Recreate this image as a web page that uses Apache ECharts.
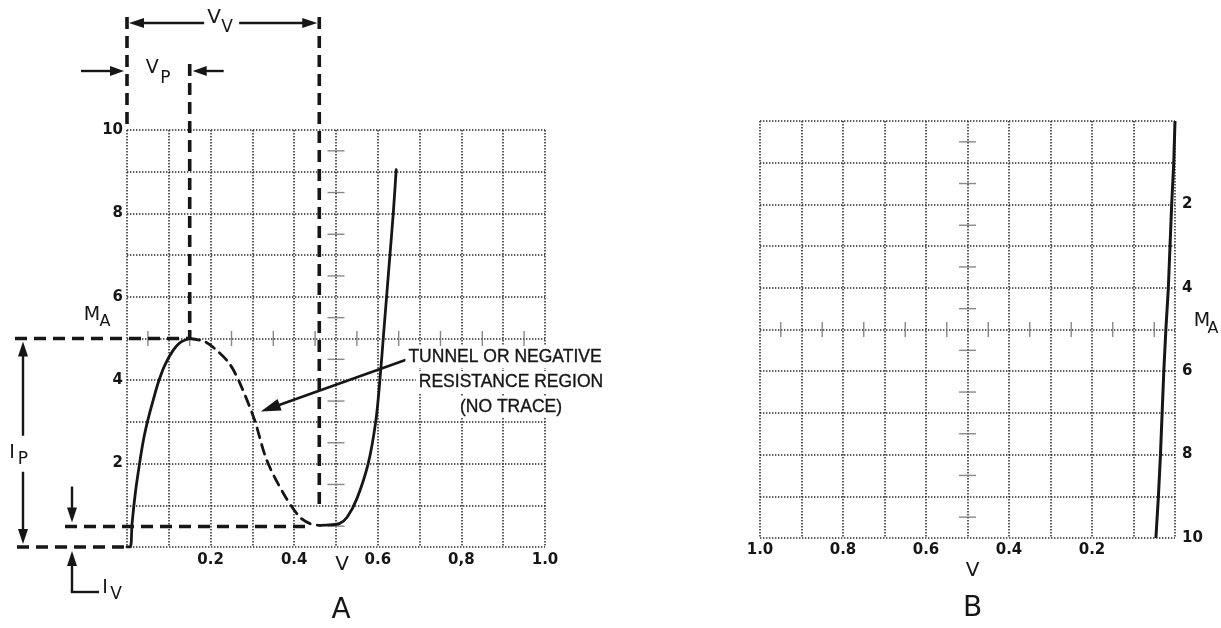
<!DOCTYPE html>
<html>
<head>
<meta charset="utf-8">
<script src="https://cdn.jsdelivr.net/npm/echarts@6/dist/echarts.min.js"></script>
<style>
  html, body { margin: 0; padding: 0; background: #fff; }
  #chart { width: 1221px; height: 628px; }
</style>
</head>
<body>
<div id="chart"></div>
<script>
// Tunnel diode characteristic: forward trace (A) and reverse trace (B).
// Volts on x, milliamps on y.

// A: rise from origin to the peak point
const peakRiseV = [0, 0.008, 0.012, 0.020, 0.030, 0.040, 0.050, 0.062, 0.075, 0.090, 0.108, 0.127, 0.150];
const peakRiseI = [0, 0, 0.55, 1.30, 2.00, 2.60, 3.05, 3.50, 3.95, 4.35, 4.68, 4.90, 5.00];

// A: negative resistance region (not traced, drawn dashed)
const negResV = [0.150, 0.185, 0.212, 0.245, 0.270, 0.305, 0.334, 0.374, 0.412, 0.438, 0.462];
const negResI = [5.00, 4.93, 4.74, 4.40, 3.93, 3.05, 2.09, 1.29, 0.73, 0.56, 0.52];

// A: valley and diode-forward rise
const valleyRiseV = [0.462, 0.485, 0.508, 0.527, 0.550, 0.577, 0.595, 0.605, 0.613, 0.621, 0.629, 0.637, 0.644];
const valleyRiseI = [0.52, 0.53, 0.56, 0.72, 1.16, 2.00, 3.00, 4.00, 5.00, 6.00, 7.00, 8.00, 9.05];

// B: reverse trace
const traceBV = [0, 0.003, 0.008, 0.012, 0.016, 0.022, 0.027, 0.031, 0.035, 0.040, 0.046];
const traceBI = [0, 1, 2, 3, 4, 5, 6, 7, 8, 9, 10];

// Peak and valley points marked on A
const peakV = 0.150, peakI = 5.0;
const valleyV = 0.46, valleyI = 0.49;

// Tick labels (index = tick number)
const xTickTextA = ['', '', '0.2', '', '0.4', '', '0.6', '', '0,8', '', '1.0'];
const xTickTextB = ['', '', '0.2', '', '0.4', '', '0.6', '', '0.8', '', '1.0'];
const yTickText  = ['', '', '2', '', '4', '', '6', '', '8', '', '10'];

// Graticule half-division marks along the centre lines
const halfDivV = [0.05, 0.15, 0.25, 0.35, 0.45, 0.55, 0.65, 0.75, 0.85, 0.95];
const halfDivI = [0.5, 1.5, 2.5, 3.5, 4.5, 5.5, 6.5, 7.5, 8.5, 9.5];
const centreV = 0.5, centreI = 5;

const annotationLines = ['TUNNEL OR NEGATIVE', 'RESISTANCE REGION', '(NO TRACE)'];

// ---------------------------------------------------------------------------
const INK = '#161616';
const GRID_INK = '#2a2a2a';
const TICK_FONT = 'DejaVu Sans';
const LETTER_FONT = 'DejaVu Sans';
const NOTE_FONT = 'Liberation Sans';

const zip = (xs, ys) => xs.map((x, i) => [x, ys[i]]);

function tickLabel(texts, interval, margin) {
  return {
    color: INK, fontFamily: TICK_FONT, fontWeight: 'bold', fontSize: 15, margin,
    formatter: v => texts[Math.round(v / interval)] || ''
  };
}

function valueAxis(gridIndex, max, interval, texts, margin, extra) {
  return Object.assign({
    gridIndex, type: 'value', min: 0, max, interval,
    axisLine: { show: false },
    axisTick: { show: false },
    splitLine: { show: true, lineStyle: { color: GRID_INK, width: 1.5, type: [1.4, 1.6] } },
    axisLabel: tickLabel(texts, interval, margin)
  }, extra || {});
}

function graticuleSeries(axisIndex) {
  return [
    {
      type: 'scatter', xAxisIndex: axisIndex, yAxisIndex: axisIndex, silent: true,
      symbol: 'rect', symbolSize: [1.4, 15],
      itemStyle: { color: '#6a6a6a' },
      data: halfDivV.map(v => [v, centreI])
    },
    {
      type: 'scatter', xAxisIndex: axisIndex, yAxisIndex: axisIndex, silent: true,
      symbol: 'rect', symbolSize: [17, 1.4],
      itemStyle: { color: '#6a6a6a' },
      data: halfDivI.map(i => [centreV, i])
    }
  ];
}

const curveLine = (data, dashed) => ({
  type: 'line', xAxisIndex: 0, yAxisIndex: 0, data,
  showSymbol: false, smooth: 0.3, silent: true,
  lineStyle: { color: INK, width: 2.8, type: dashed ? [10, 7] : 'solid', cap: 'round', join: 'round' },
  z: 5
});

const option = {
  backgroundColor: '#ffffff',
  animation: false,
  grid: [
    { left: 127, top: 130, width: 418, height: 417 },
    { left: 760, top: 121, width: 415, height: 417 }
  ],
  xAxis: [
    valueAxis(0, 1, 0.1, xTickTextA, 6),
    valueAxis(1, 1, 0.1, xTickTextB, 5, { inverse: true })
  ],
  yAxis: [
    valueAxis(0, 10, 1, yTickText, 4),
    valueAxis(1, 10, 1, yTickText, 7, { inverse: true, position: 'right' })
  ],
  series: [
    ...graticuleSeries(0),
    ...graticuleSeries(1),
    curveLine(zip(peakRiseV, peakRiseI), false),
    curveLine(zip(negResV, negResI), true),
    curveLine(zip(valleyRiseV, valleyRiseI), false),
    {
      type: 'line', xAxisIndex: 1, yAxisIndex: 1, data: zip(traceBV, traceBI),
      showSymbol: false, silent: true,
      lineStyle: { color: INK, width: 3 }, z: 5
    }
  ]
};

const chart = echarts.init(document.getElementById('chart'), null, { renderer: 'canvas' });
chart.setOption(option);

// ---------------------------------------------------------------------------
// Dimension lines, arrows and lettering
const P = (v, i) => chart.convertToPixel({ gridIndex: 0 }, [v, i]);
const PB = (v, i) => chart.convertToPixel({ gridIndex: 1 }, [v, i]);

const G = [];
const Z = 100;
function seg(x1, y1, x2, y2, w, dash) {
  G.push({ type: 'line', silent: true, z: Z,
    shape: { x1, y1, x2, y2 },
    style: { stroke: INK, lineWidth: w, lineDash: dash || null, lineCap: 'butt' } });
}
function arrow(x1, y1, x2, y2, len, half, w) {
  const dx = x2 - x1, dy = y2 - y1, d = Math.hypot(dx, dy);
  const ux = dx / d, uy = dy / d;
  const bx = x2 - ux * len, by = y2 - uy * len;
  seg(x1, y1, bx + ux * 2, by + uy * 2, w);
  G.push({ type: 'polygon', silent: true, z: Z,
    shape: { points: [[x2, y2], [bx - uy * half, by + ux * half], [bx + uy * half, by - ux * half]] },
    style: { fill: INK } });
}
function txt(x, y, text, size, font, extra) {
  G.push({ type: 'text', silent: true, z: Z + 1, x, y,
    style: Object.assign({ text, fill: INK, font: size + 'px "' + font + '"',
      align: 'center', verticalAlign: 'middle' }, extra || {}) });
}

const [x0, y0] = P(0, 0);
const yTop = P(0, 10)[1];
const xP = P(peakV, 0)[0], yP = P(0, peakI)[1];
const xV = P(valleyV, 0)[0], yV = P(0, valleyI)[1];
const yVvEnd = P(0, 0.96)[1];

const DASH = [12, 7], DW = 3.6;
const rowVV = 23, rowVP = 71, colIP = 23, colIV = 72;

// vertical dashed guides
seg(x0, 17, x0, yTop, DW, DASH);
seg(xP, 64, xP, yP, DW, DASH);
seg(xV, 17, xV, yVvEnd, DW, DASH);
// horizontal dashed guides
seg(15, yP, xP, yP, DW, DASH);
seg(17, y0, x0, y0, DW, DASH);
seg(65, yV, xV - 10, yV, DW, DASH);

// V_V dimension
const midVV = (x0 + xV) / 2;
arrow(midVV - 19, rowVV, x0 + 2, rowVV, 15, 5, 2.4);
arrow(midVV + 16, rowVV, xV - 2, rowVV, 15, 5, 2.4);
txt(midVV - 9, rowVV - 5, 'V', 20, LETTER_FONT);
txt(midVV + 4, rowVV + 5, 'V', 17, LETTER_FONT);

// V_P dimension (arrows pointing inward)
const midVP = (x0 + xP) / 2;
arrow(x0 - 46, rowVP, x0 - 3, rowVP, 14, 5, 2.4);
arrow(xP + 34, rowVP, xP + 3, rowVP, 14, 5, 2.4);
txt(midVP - 6, rowVP - 3, 'V', 19, LETTER_FONT);
txt(midVP + 7, rowVP + 8, 'P', 17, LETTER_FONT);

// I_P dimension
const midIP = (yP + y0) / 2;
arrow(colIP, midIP - 7, colIP, yP + 3, 15, 5, 2.4);
arrow(colIP, midIP + 29, colIP, y0 - 3, 15, 5, 2.4);
txt(12, midIP + 10, 'I', 19, LETTER_FONT);
txt(23, midIP + 17, 'P', 17, LETTER_FONT);

// I_V dimension
arrow(colIV, yV - 40, colIV, yV - 4, 15, 5, 2.4);
arrow(colIV, y0 + 45, colIV, y0 + 4, 15, 5, 2.4);
seg(colIV - 1.2, y0 + 45, colIV + 27, y0 + 45, 2.4);
txt(105, y0 + 41, 'I', 19, LETTER_FONT);
txt(116, y0 + 48, 'V', 17, LETTER_FONT);

// Negative resistance note
const tip = P(0.32, 3.25);
arrow(411, 358, tip[0], tip[1], 20, 6, 2.6);
const noteX = 510, noteY = 357, noteLH = 25;
annotationLines.forEach((line, k) => {
  txt(noteX + (k === 0 ? -5 : 1), noteY + k * noteLH, line, 17.5, NOTE_FONT,
    { backgroundColor: '#ffffff', padding: [2, 3], stroke: INK, lineWidth: 0.35 });
});

// Axis names and panel letters
txt(92, 315, 'M', 19, LETTER_FONT);
txt(105, 322, 'A', 16, LETTER_FONT);
txt(342, 565, 'V', 20, LETTER_FONT);
txt(341, 611, 'A', 28, LETTER_FONT);

const bMid = PB(0.5, 10);
txt(1202, 321, 'M', 19, LETTER_FONT);
txt(1213, 329, 'A', 16, LETTER_FONT);
txt(bMid[0] + 5, 571, 'V', 20, LETTER_FONT);
txt(bMid[0] + 5, 609, 'B', 28, LETTER_FONT);

chart.setOption({ graphic: { elements: G } });
</script>
</body>
</html>
